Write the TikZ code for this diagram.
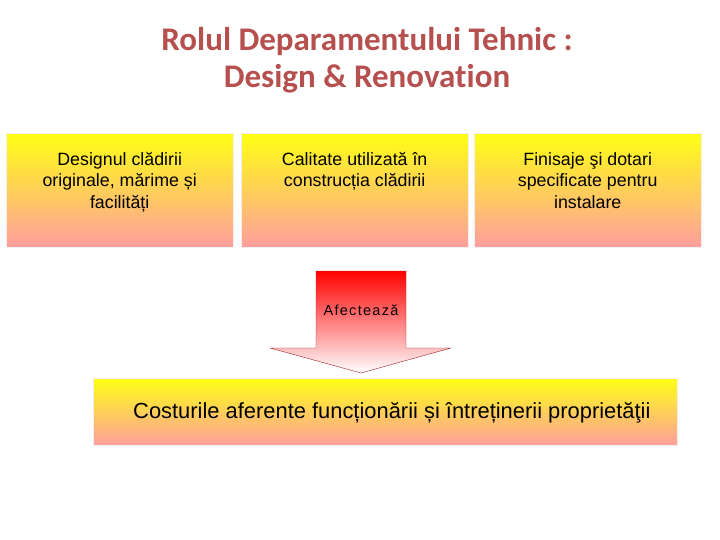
\documentclass[tikz,border=0pt]{standalone}
\usepackage{fontspec}
\setmainfont{Liberation Sans}
\newfontfamily\titlefont[Ligatures={NoCommon}]{Carlito}
\newfontfamily\spacedfont[LetterSpace=9]{Liberation Sans}
\usetikzlibrary{positioning}

\definecolor{titlered}{RGB}{181,80,79}
\definecolor{boxyellow}{RGB}{255,255,20}
\definecolor{boxorange}{RGB}{255,210,110}
\definecolor{boxpink}{RGB}{255,158,158}
\definecolor{arrowred}{RGB}{160,30,40}

\begin{document}
\begin{tikzpicture}[x=1pt, y=-1pt, line join=bevel]
  % \boxw and \boxh are the width and height of the three upper boxes,
  % \boxtop is the y of their upper edge.
  \pgfmathsetmacro{\boxw}{227}
  \pgfmathsetmacro{\boxh}{114}
  \pgfmathsetmacro{\boxtop}{133}

  \tikzset{
    box_fill/.style={draw=black!6, top color=boxyellow,
      middle color=boxorange, bottom color=boxpink},
    upper_box/.style={box_fill, minimum width=\boxw pt, minimum height=\boxh pt,
      inner sep=0pt, anchor=north west},
    box_text/.style={align=center, inner sep=0pt,
      font=\fontsize{17.8}{21.5}\selectfont},
    arrow_shape/.style={draw=arrowred, thin, top color=red,
      middle color=red!30, bottom color=white},
  }

  \useasboundingbox (0,0) rectangle (720,540);

  % title
  \node[font=\titlefont\bfseries\fontsize{33}{37}\selectfont, text=titlered,
    align=center] (title) at (367,60)
    {Rolul Deparamentului Tehnic :\\Design \& Renovation};

  % the three upper boxes
  \foreach \x/\boxname in {6/d1, 241/d2, 474/d3}
    \node[upper_box] (\boxname) at (\x,\boxtop) {};

  \node[box_text, below=19pt of d1.north] (d1-t)
    {Designul clădirii\\originale, mărime și\\facilități};
  \node[box_text, below=19pt of d2.north] (d2-t)
    {Calitate utilizată în\\construcția clădirii};
  \node[box_text, below=19pt of d3.north] (d3-t)
    {Finisaje şi dotari\\specificate pentru\\instalare};

  % the arrow
  \coordinate (a1) at (316,271);
  \coordinate (a2) at (406,271);
  \coordinate (a3) at (406,348);
  \coordinate (a4) at (451,348);
  \coordinate (tip) at (361,373);
  \coordinate (a5) at (270,348);
  \coordinate (a6) at (316,348);
  \draw[arrow_shape] (a1) -- (a2) -- (a3) -- (a4) -- (tip) -- (a5) -- (a6) -- cycle;
  \node[font=\spacedfont\fontsize{14.5}{16}\selectfont] (affect) at (361,310) {Afectează};

  % the lower box
  \node[box_fill, minimum width=584pt, minimum height=67pt, inner sep=0pt,
    anchor=north west] (costs) at (93,378) {};
  \node[font=\fontsize{21.9}{25}\selectfont, anchor=west, inner sep=0pt,
    right=40pt of costs.west, yshift=-1pt] (costs-t)
    {Costurile aferente funcționării și întreținerii proprietăţii};
\end{tikzpicture}
\end{document}
